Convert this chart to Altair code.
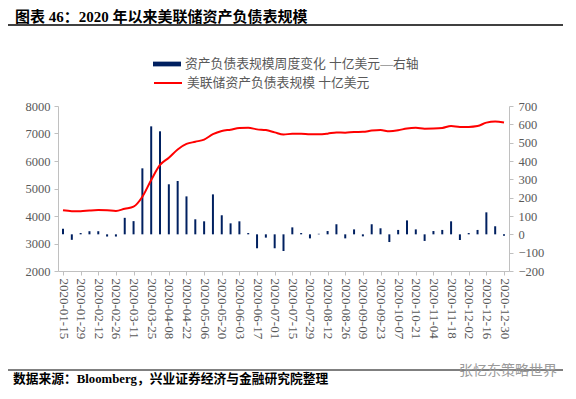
import json
import altair as alt
import pandas as pd

dates = [
    "2020-01-15", "2020-01-22", "2020-01-29", "2020-02-05", "2020-02-12", "2020-02-19",
    "2020-02-26", "2020-03-04", "2020-03-11", "2020-03-18", "2020-03-25", "2020-04-01",
    "2020-04-08", "2020-04-15", "2020-04-22", "2020-04-29", "2020-05-06", "2020-05-13",
    "2020-05-20", "2020-05-27", "2020-06-03", "2020-06-10", "2020-06-17", "2020-06-24",
    "2020-07-01", "2020-07-08", "2020-07-15", "2020-07-22", "2020-07-29", "2020-08-05",
    "2020-08-12", "2020-08-19", "2020-08-26", "2020-09-02", "2020-09-09", "2020-09-16",
    "2020-09-23", "2020-09-30", "2020-10-07", "2020-10-14", "2020-10-21", "2020-10-28",
    "2020-11-04", "2020-11-11", "2020-11-18", "2020-11-25", "2020-12-02", "2020-12-09",
    "2020-12-16", "2020-12-23", "2020-12-30",
]

# weekly change, billion USD (right axis)
weekly_change = [
    30, -30, 7, 17, 17, -12, -12, 90, 72, 360, 589, 562, 273, 291, 207, 82, 71,
    218, 104, 60, 71, 7, -76, -18, -76, -91, 38, 7, -22, 3, 18, 55, -22, 27, -11,
    55, 33, -42, 24, 76, 27, -36, 18, 24, 71, -31, 7, 24, 120, 44, -8,
]

# Fed balance sheet size, billion USD (left axis)
balance = [
    4205, 4175, 4175, 4200, 4215, 4205, 4185, 4265, 4340, 4700, 5310, 5855, 6120,
    6420, 6620, 6700, 6780, 6975, 7090, 7140, 7200, 7210, 7150, 7125, 7040, 6960,
    6995, 6995, 6970, 6970, 6995, 7040, 7030, 7055, 7060, 7105, 7125, 7080, 7115,
    7185, 7210, 7175, 7180, 7200, 7270, 7240, 7240, 7270, 7395, 7440, 7400,
]

left_ticks = [2000, 3000, 4000, 5000, 6000, 7000, 8000]
right_ticks = [-200, -100, 0, 100, 200, 300, 400, 500, 600, 700]
x_ticks = list(range(0, len(dates), 2))

bar_label = "资产负债表规模周度变化 十亿美元—右轴"
line_label = "美联储资产负债表规模 十亿美元"
title_text = "图表 46：2020 年以来美联储资产负债表规模"
source_text = "数据来源：Bloomberg，兴业证券经济与金融研究院整理"
watermark_text = "张忆东策略世界"

df = pd.DataFrame({
    "i": list(range(len(dates))),
    "date": dates,
    "chg": weekly_change,
    "bs": balance,
    "s1": bar_label,
    "s2": line_label,
})

SERIF = "Liberation Serif, Noto Sans CJK SC"
GRAY = "#595959"
AXIS_LINE = "#c0c0c0"

x_enc = alt.X(
    "i:Q",
    scale=alt.Scale(domain=[0, len(dates) - 1], nice=False, zero=False),
    axis=alt.Axis(
        values=x_ticks,
        labelExpr=json.dumps(dates) + "[datum.value]",
        labelAngle=90,
        labelAlign="left",
        labelBaseline="middle",
        labelFontSize=13,
        labelPadding=3,
        title=None,
        grid=False,
        tickSize=4,
    ),
)

bars = alt.Chart(df).mark_bar(size=2).encode(
    x=x_enc,
    y=alt.Y(
        "chg:Q",
        scale=alt.Scale(domain=[-200, 700], nice=False),
        axis=alt.Axis(orient="right", values=right_ticks, title=None, grid=False,
                      format="d", tickSize=4, labelFontSize=12.5, labelPadding=5),
    ),
    color=alt.Color(
        "s1:N",
        scale=alt.Scale(domain=[bar_label], range=["#002060"]),
        legend=alt.Legend(
            orient="none", legendX=95, legendY=-56, title=None, padding=0,
            symbolType="M-1,-0.17H1V0.17H-1Z", symbolSize=784, symbolStrokeWidth=0,
            labelFont=SERIF, labelFontSize=12.8, labelColor=GRAY, labelOffset=4,
            labelLimit=0,
        ),
    ),
)

line = alt.Chart(df).mark_line(strokeWidth=2, interpolate="monotone").encode(
    x=x_enc,
    y=alt.Y(
        "bs:Q",
        scale=alt.Scale(domain=[2000, 8000], nice=False),
        axis=alt.Axis(orient="left", values=left_ticks, title=None, grid=False,
                      format="d", tickSize=4, labelFontSize=12.5, labelPadding=4),
    ),
    color=alt.Color(
        "s2:N",
        scale=alt.Scale(domain=[line_label], range=["#ff0000"]),
        legend=alt.Legend(
            orient="none", legendX=95, legendY=-38, title=None, padding=0,
            symbolType="stroke", symbolSize=784, symbolStrokeWidth=2,
            labelFont=SERIF, labelFontSize=12.8, labelColor=GRAY, labelOffset=4,
            labelLimit=0,
        ),
    ),
)

one = pd.DataFrame({"k": [0]})

title = alt.Chart(one).mark_text(
    text=title_text, align="left", baseline="middle", font=SERIF,
    fontSize=15, fontWeight="bold", color="black",
).encode(x=alt.value(-43), y=alt.value(-89.5))

title_rule = alt.Chart(one).mark_rule(color="black", strokeWidth=1.3).encode(
    x=alt.value(-52), x2=alt.value(505), y=alt.value(-81)
)

foot_rule = alt.Chart(one).mark_rule(color="black", strokeWidth=1).encode(
    x=alt.value(-53), x2=alt.value(505), y=alt.value(264)
)

source = alt.Chart(one).mark_text(
    text=source_text, align="left", baseline="middle", font=SERIF,
    fontSize=12.75, fontWeight="bold", color="black",
).encode(x=alt.value(-45), y=alt.value(273))

watermark = alt.Chart(one).mark_text(
    text=watermark_text, align="left", baseline="middle", font="Noto Sans CJK SC",
    fontSize=14, color="#9a9a9a",
).encode(x=alt.value(401), y=alt.value(265))

chart = alt.layer(
    bars, line, title, title_rule, foot_rule, source, watermark
).resolve_scale(
    y="independent", color="independent"
).properties(
    width=451, height=165,
    autosize=alt.AutoSizeParams(type="none"),
    padding={"left": 50, "top": 98, "right": 59, "bottom": 120},
).configure_view(
    stroke=None
).configure_axis(
    labelFont=SERIF, labelColor=GRAY, domainColor=AXIS_LINE, tickColor=AXIS_LINE,
    domainWidth=1, tickWidth=1,
)

chart.save("out.html", embed_options={"renderer": "svg", "actions": False})
